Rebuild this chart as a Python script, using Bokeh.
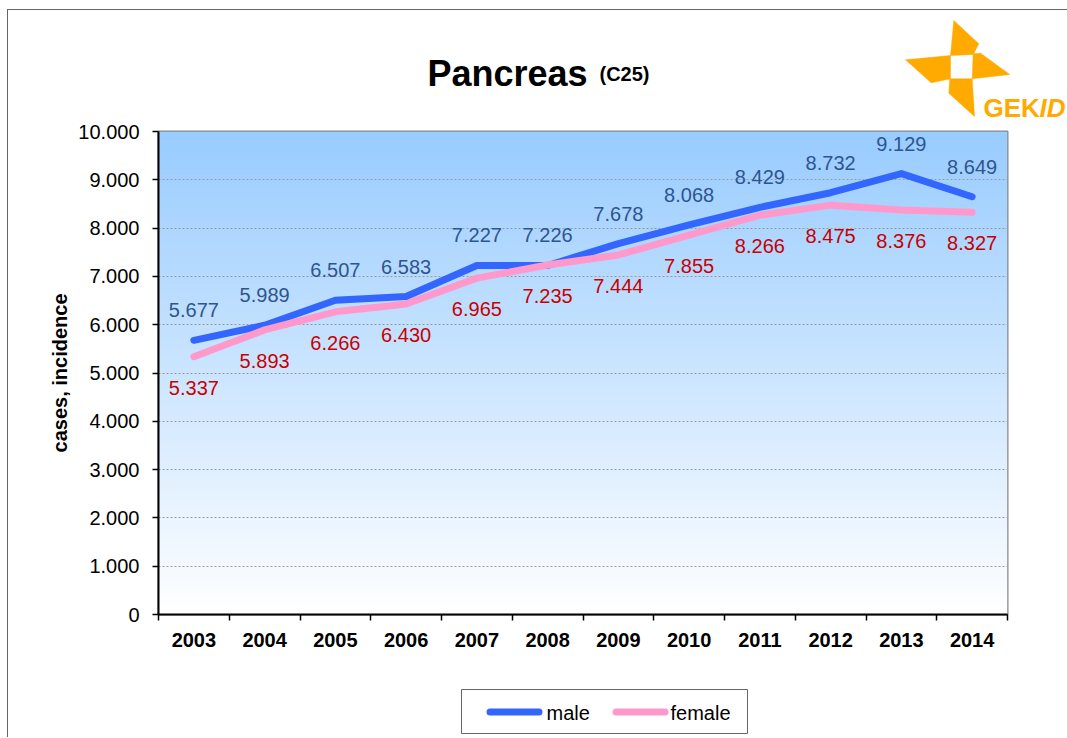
import numpy as np
from bokeh.plotting import figure
from bokeh.layouts import column
from bokeh.models import Range1d, FixedTicker, ColumnDataSource
from bokeh.embed import file_html
from bokeh.resources import INLINE
from bokeh.core.properties import value

# ---------------- data ----------------
years = ["2003", "2004", "2005", "2006", "2007", "2008",
         "2009", "2010", "2011", "2012", "2013", "2014"]
male = [5677, 5989, 6507, 6583, 7227, 7226, 7678, 8068, 8429, 8732, 9129, 8649]
female = [5337, 5893, 6266, 6430, 6965, 7235, 7444, 7855, 8266, 8475, 8376, 8327]
y_ticks = [0, 1000, 2000, 3000, 4000, 5000, 6000, 7000, 8000, 9000, 10000]
y_tick_labels = ["0", "1.000", "2.000", "3.000", "4.000", "5.000",
                 "6.000", "7.000", "8.000", "9.000", "10.000"]
series_names = ["male", "female"]
title_text = "Pancreas"
subtitle_text = "(C25)"
y_label = "cases, incidence"


def fmt(v):
    return f"{v:,}".replace(",", ".")


FONT = "Liberation Sans"
MALE_C, FEMALE_C = "#3366FF", "#FF99CC"
ORANGE = "#FFAA00"
W = 1059
X0 = 8          # page x of canvas left
HEAD_TOP, HEAD_BOT = 10, 120
FRAME_TOP, FRAME_BOT = 131, 614
MAIN_H = 540
FOOT_TOP = HEAD_BOT + MAIN_H
FOOT_BOT = 737


def deco_fig(ytop, ybot):
    f = figure(width=W, height=ybot - ytop, x_range=Range1d(X0, X0 + W),
               y_range=Range1d(ybot, ytop), output_backend="svg",
               toolbar_location=None, x_axis_location=None, y_axis_location=None,
               min_border=0, min_border_left=0, min_border_right=0,
               min_border_top=0, min_border_bottom=0)
    f.frame_align = False
    f.grid.visible = False
    f.outline_line_color = None
    f.background_fill_color = "white"
    f.border_fill_color = "white"
    return f


# ---------------- header: title + logo ----------------
head = deco_fig(HEAD_TOP, HEAD_BOT)
head.text(x=[427], y=[73], text=[title_text], text_font=value(FONT),
          text_font_size="36px", text_font_style="bold", text_color="black",
          text_align="left", text_baseline="alphabetic")
head.text(x=[599], y=[73], text=[subtitle_text], text_font=value(FONT),
          text_font_size="20px", text_font_style="bold", text_color="black",
          text_align="left", text_baseline="alphabetic")
blades = [
    [(953.3, 20), (978.3, 43.3), (972.7, 54), (950, 55)],
    [(972.7, 53.3), (980, 52.7), (1009.3, 74), (971.7, 78.3)],
    [(905, 59.3), (950, 55), (950, 78.3), (930.7, 82.3)],
    [(949.3, 78.3), (971.7, 78.3), (974, 116), (948.3, 92.7)],
]
head.patches(xs=[[q[0] for q in b] for b in blades], ys=[[q[1] for q in b] for b in blades],
             fill_color=ORANGE, line_color=ORANGE, line_width=0.5)
head.text(x=[983], y=[107], text=["GEK"], text_font=value(FONT), text_font_size="26px",
          text_font_style="bold", text_color=ORANGE, text_align="left",
          text_baseline="alphabetic")
head.text(x=[1039], y=[107], text=["ID"], text_font=value(FONT), text_font_size="26px",
          text_font_style="bold italic", text_color=ORANGE, text_align="left",
          text_baseline="alphabetic")

# ---------------- main chart ----------------
n = len(years)
xs = [i + 0.5 for i in range(n)]

p = figure(width=W, height=MAIN_H, x_range=Range1d(0, n), y_range=Range1d(0, 10000),
           output_backend="svg", toolbar_location=None,
           min_border_left=150, min_border_right=60,
           min_border_top=FRAME_TOP - HEAD_BOT,
           min_border_bottom=MAIN_H - (FRAME_BOT - HEAD_BOT))
p.frame_align = False
p.background_fill_color = "white"
p.border_fill_color = "white"
p.outline_line_color = "#888888"
p.outline_line_width = 2

rows = 256
img = np.zeros((rows, 2), dtype=np.uint32)
view = img.view(dtype=np.uint8).reshape((rows, 2, 4))
top = np.array([153, 204, 255])
bot = np.array([255, 255, 255])
for r in range(rows):
    t = r / (rows - 1)
    c = bot + (top - bot) * t
    view[r, :, 0] = int(c[0])
    view[r, :, 1] = int(c[1])
    view[r, :, 2] = int(c[2])
    view[r, :, 3] = 255
bg = p.image_rgba(image=[img], x=0, y=0, dw=n, dh=10000)
bg.level = "image"

p.xgrid.visible = False
p.ygrid.ticker = FixedTicker(ticks=y_ticks[1:-1])
p.ygrid.grid_line_color = "#9a9a9a"
p.ygrid.grid_line_dash = "2 2"
p.ygrid.grid_line_width = 1

xa = p.xaxis[0]
xa.ticker = FixedTicker(ticks=xs, minor_ticks=list(range(n + 1)))
xa.major_label_overrides = {x: y for x, y in zip(xs, years)}
xa.major_tick_out = 0
xa.major_tick_in = 0
xa.minor_tick_out = 6
xa.minor_tick_in = 0
xa.minor_tick_line_color = "black"
xa.minor_tick_line_width = 1.5
xa.axis_line_color = "black"
xa.axis_line_width = 2
xa.major_label_text_font = FONT
xa.major_label_text_font_size = "20px"
xa.major_label_text_font_style = "bold"
xa.major_label_text_color = "black"
xa.major_label_standoff = 12

ya = p.yaxis[0]
ya.ticker = FixedTicker(ticks=y_ticks)
ya.major_label_overrides = {t: l for t, l in zip(y_ticks, y_tick_labels)}
ya.major_tick_out = 6
ya.major_tick_in = 0
ya.minor_tick_out = 0
ya.minor_tick_in = 0
ya.major_tick_line_color = "black"
ya.major_tick_line_width = 1.5
ya.axis_line_color = "black"
ya.axis_line_width = 2
ya.major_label_text_font = FONT
ya.major_label_text_font_size = "20px"
ya.major_label_text_color = "black"
ya.major_label_standoff = 13
ya.axis_label = y_label
ya.axis_label_text_font = FONT
ya.axis_label_text_font_size = "20px"
ya.axis_label_text_font_style = "bold"
ya.axis_label_text_color = "black"
ya.axis_label_standoff = 4

src = ColumnDataSource(dict(x=xs, male=male, female=female,
                            ml=[fmt(v) for v in male], fl=[fmt(v) for v in female]))
p.line("x", "male", source=src, line_color=MALE_C, line_width=7,
       line_cap="round", line_join="round")
p.line("x", "female", source=src, line_color=FEMALE_C, line_width=7,
       line_cap="round", line_join="round")
p.text("x", "male", text="ml", source=src, text_align="center", text_baseline="middle",
       y_offset=-30, text_font=value(FONT), text_font_size="20px", text_color="#2E5590")
p.text("x", "female", text="fl", source=src, text_align="center", text_baseline="middle",
       y_offset=31, text_font=value(FONT), text_font_size="20px", text_color="#C80000")

# ---------------- footer: legend ----------------
foot = deco_fig(FOOT_TOP, FOOT_BOT)
foot.quad(left=[461], right=[747], top=[689], bottom=[733], fill_color="white",
          line_color="#666666", line_width=1)
foot.segment(x0=[489.5, 615.5], y0=[711.5, 711.5], x1=[538.5, 664.5], y1=[711.5, 711.5],
             line_color=[MALE_C, FEMALE_C], line_width=7, line_cap="round")
foot.text(x=[546, 670], y=[712, 712], text=series_names, text_font=value(FONT),
          text_font_size="20px", text_color="black", text_align="left",
          text_baseline="middle")

layout = column(head, p, foot, spacing=0)
layout.styles = {"margin-left": "7px", "margin-top": "9px",
                 "border-left": "1px solid #666666", "border-top": "1px solid #666666"}

open("out.html", "w").write(file_html(layout, INLINE))
